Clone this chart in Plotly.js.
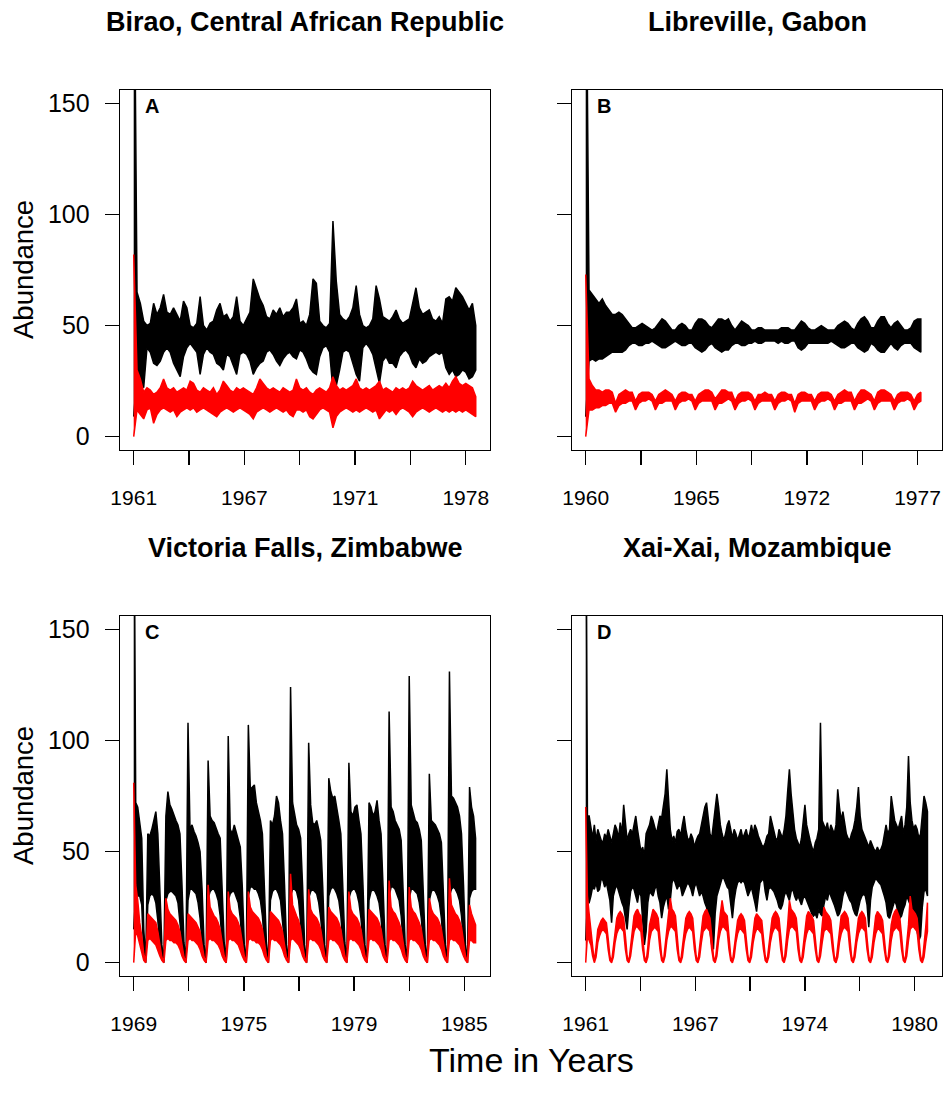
<!DOCTYPE html>
<html><head><meta charset="utf-8">
<script src="https://cdn.plot.ly/plotly-3.0.1.min.js"></script>
<style>html,body{margin:0;padding:0;background:#fff}#chart{width:944px;height:1105px}</style>
</head><body><div id="chart"></div>
<script>
// ---------- DATA ----------
const panelTitles = ['Birao, Central African Republic', 'Libreville, Gabon', 'Victoria Falls, Zimbabwe', 'Xai-Xai, Mozambique'];
const panelLetters = ['A', 'B', 'C', 'D'];
const tickDays = [0, 1000, 2000, 3000, 4000, 5000, 6000];
const yearLabelsA = ['1961', '', '1967', '', '1971', '', '1978'];
const yearLabelsB = ['1960', '', '1965', '', '1972', '', '1977'];
const yearLabelsC = ['1969', '', '1975', '', '1979', '', '1985'];
const yearLabelsD = ['1961', '', '1967', '', '1974', '', '1980'];
const yTicks = [0, 50, 100, 150];
const seriesLength = [6190, 6195, 6218, 6252];   // days of simulation per panel
const sampleStep = [60, 60, 36.5, 31.5];          // days between samples

// Panel A (Birao) envelope of the black (total) and red series
const blackHiA = [250,65,60,52,50,51,60,55,58,64, 56,55,58,55,52,61,58,50,49,51, 63,50,48,51,52,57,60,54,55,52,
 54,63,52,50,53,56,71,66,62,59, 54,53,57,55,58,54,56,56,58,62, 51,52,50,55,71,69,52,50,49,51,
 97,70,55,53,52,54,58,68,55,50, 49,50,53,68,62,54,53,52,54,57, 53,51,52,53,60,67,58,55,56,57,
 53,52,54,51,62,63,61,67,65,63, 60,57,60,50];
const blackLoA = [9,28,25,22,40,38,33,32,34,38, 40,38,33,30,27,36,40,42,40,38, 28,37,40,38,37,33,32,30,37,36,
 32,28,37,38,37,34,28,31,33,34, 38,39,37,34,32,35,37,38,36,35, 39,38,35,31,29,28,36,40,41,38,
 21,23,30,38,39,38,33,28,25,40, 42,40,37,30,24,34,36,33,33,31, 36,38,39,37,33,31,35,33,34,36,
 37,38,37,38,31,28,30,27,28,30, 29,26,27,30];
const redHiA = [82,30,26,20,22,21,19,20,22,26, 22,21,22,20,21,22,21,25,24,21, 20,22,21,20,22,19,21,25,23,21,
 20,22,21,22,21,20,19,22,26,24, 22,21,22,21,20,22,21,20,21,26, 22,21,22,20,19,21,22,21,20,22,
 27,23,21,22,21,22,23,26,22,21, 22,21,22,23,25,21,22,21,20,22, 21,22,21,22,25,23,22,21,22,23,
 21,22,23,22,24,22,25,27,24,23, 24,23,22,18];
const redLoA = [0,12,10,8,12,13,6,10,12,13, 12,11,12,9,11,12,13,12,13,11, 12,13,12,11,10,9,11,12,13,12,
 11,12,13,12,11,10,8,11,12,13, 12,11,12,13,12,11,12,10,9,12, 12,11,12,9,8,10,12,13,12,11,
 4,9,11,12,13,12,11,12,11,12, 13,12,11,12,8,10,12,11,12,10, 12,13,12,11,9,11,12,13,12,11,
 12,13,12,11,12,11,12,11,12,11, 12,11,10,9];

// Panel B (Libreville)
const blackHiB = [250,66,64,62,60,62,59,57,55,55, 56,55,53,51,49,49,50,51,50,49, 48,49,51,53,52,50,48,48,50,51,
 50,48,48,51,53,53,52,50,49,51, 53,53,52,53,50,48,50,52,51,50, 48,48,49,49,48,48,48,48,48,49,
 49,49,48,48,50,52,51,49,48,48, 49,50,49,48,48,48,50,51,52,51, 49,48,51,53,54,52,49,49,52,54,
 54,51,49,51,52,50,48,48,49,52, 53,53];
const blackLoB = [9,34,35,34,35,35,36,37,38,38, 38,38,39,41,42,42,41,41,42,42, 43,42,41,40,40,41,42,43,42,41,
 41,42,42,40,39,38,39,41,42,40, 39,38,39,39,41,42,42,41,41,42, 42,43,42,42,43,43,43,43,42,43,
 42,42,43,43,40,39,40,42,42,42, 42,42,42,42,43,42,41,40,40,41, 42,42,40,39,38,39,42,41,39,38,
 38,40,42,40,39,41,42,42,42,40, 39,38];
const redHiB = [73,26,23,21,21,20,21,21,20,15, 19,20,21,20,20,16,19,20,20,20, 19,16,19,20,21,20,19,16,19,20,
 20,19,19,16,19,20,21,21,20,17, 19,21,21,20,20,16,19,20,20,20, 19,16,19,19,20,19,19,16,19,20,
 20,19,19,15,19,20,20,19,19,16, 19,20,20,20,19,16,19,20,21,20, 20,16,19,21,21,20,19,16,20,21,
 21,20,19,16,19,20,20,20,19,16, 19,20];
const redLoB = [0,12,12,13,13,14,14,15,15,11, 14,15,15,16,16,12,15,16,16,17, 16,12,15,15,16,16,16,12,15,16,
 16,17,16,12,15,16,16,16,16,12, 15,15,16,17,16,12,15,16,16,17, 16,12,15,16,16,16,16,12,15,16,
 16,17,16,11,15,16,16,16,16,12, 15,16,16,17,16,12,15,15,16,16, 16,12,15,15,16,17,16,12,15,16,
 16,16,16,12,15,16,16,17,16,12, 15,16];

// Panel C (Victoria Falls): strongly seasonal, one row per wet season
const blackHiC = [250,72,70,62,56,15,0.5,
 58,57,60,64,68,58,32,8,0.5,
 66,77,71,69,66,64,62,58,35,9,0.5,
 108,60,62,59,57,54,50,33,8,0.5,
 91,66,64,63,60,58,56,36,9,0.5,
 102,60,58,62,59,56,52,34,8,0.5,
 107,78,79,80,72,68,64,58,34,9,0.5,
 64,62,66,75,72,64,58,35,8,0.5,
 124,72,66,62,60,56,34,8,0.5,
 99,71,63,62,64,60,55,34,8,0.5,
 83,77,74,75,70,64,58,36,9,0.5,
 90,68,66,70,71,64,58,35,8,0.5,
 72,70,66,68,73,64,58,34,8,0.5,
 113,70,68,64,62,60,55,34,8,0.5,
 129,71,68,64,63,60,55,34,8,0.5,
 85,64,63,62,60,58,54,33,8,0.5,
 131,75,74,72,70,66,58,35,8,0.5,
 79,70,66,56];
const blackLoC = [15,30,30,30,26,3,0,
 26,30,31,30,27,19,8,2,0,
 28,31,32,32,31,30,27,20,9,2,0,
 28,33,33,32,31,27,20,9,2,0,
 29,32,33,33,31,28,21,9,2,0,
 28,31,32,32,30,27,20,8,2,0,
 30,34,34,33,33,31,28,21,9,2,0,
 28,32,33,33,31,28,20,9,2,0,
 30,33,33,32,28,20,8,2,0,
 29,32,33,32,31,27,20,9,2,0,
 30,33,34,33,31,28,21,9,2,0,
 29,32,33,33,31,27,20,9,2,0,
 28,32,33,32,30,27,20,8,2,0,
 30,34,34,33,31,28,21,9,2,0,
 29,33,33,32,31,27,20,9,2,0,
 28,32,33,32,30,27,20,8,2,0,
 30,33,34,33,31,28,21,9,2,0,
 29,32,33,33];
const redHiC = [81,35,28,18,12,4,0.3,
 22,21,20,19,18,14,8,2.5,0.2,
 29,24,22,21,20,19,17,14,8,2.5,0.2,
 22,21,20,19,18,16,14,8,2.5,0.2,
 35,25,23,21,20,18,15,9,3,0.2,
 32,24,22,21,20,18,15,9,3,0.2,
 32,25,23,22,21,20,18,15,9,3,0.2,
 23,22,21,20,19,17,14,8,2.5,0.2,
 40,26,23,21,19,15,8,2.5,0.2,
 33,24,22,21,20,18,15,9,3,0.2,
 25,23,22,21,20,18,15,9,3,0.2,
 32,24,22,21,20,18,15,9,3,0.2,
 24,23,22,21,20,18,15,9,3,0.2,
 37,25,23,22,20,18,15,9,3,0.2,
 34,25,23,22,20,18,15,9,3,0.2,
 29,24,22,21,20,18,15,9,3,0.2,
 38,26,24,22,21,19,16,9,3,0.2,
 26,22,19,17];
const redLoC = [0,14,12,8,5,1,0,
 10,11,10,9,8,6,3,1,0,
 10,11,10,10,9,9,8,6,3,1,0,
 10,11,10,10,9,8,6,3,1,0,
 10,11,10,10,9,8,6,3,1,0,
 10,11,10,10,9,8,6,3,1,0,
 10,11,10,10,9,9,8,6,3,1,0,
 10,11,10,10,9,8,6,3,1,0,
 10,11,10,9,8,6,3,1,0,
 10,11,10,10,9,8,6,3,1,0,
 10,11,10,10,9,8,6,3,1,0,
 10,11,10,10,9,8,6,3,1,0,
 10,11,10,10,9,8,6,3,1,0,
 10,11,10,10,9,8,6,3,1,0,
 10,11,10,10,9,8,6,3,1,0,
 10,11,10,10,9,8,6,3,1,0,
 10,11,10,10,9,8,6,3,1,0,
 10,10,9,9];

// Panel D (Xai-Xai)
const blackHiD = [250,66,66,60,56,62,55,60,57,55, 54,58,56,60,57,54,58,62,60,56, 63,58,71,62,55,58,60,58,63,66,
 60,55,50,52,48,58,60,62,66,64, 61,58,62,66,65,72,76,87,70,60, 55,57,54,59,60,57,62,66,60,56,
 55,58,56,52,55,57,58,62,66,70, 72,65,58,56,62,70,76,70,62,58, 55,58,62,64,60,56,60,58,55,58,
 60,56,58,60,56,58,62,58,62,60, 57,55,53,52,54,57,58,66,63,60, 56,55,60,58,56,60,66,77,87,76,
 68,60,56,54,52,56,64,71,62,58, 55,52,50,54,56,60,108,64,62,60, 63,58,62,60,58,62,78,70,64,68,
 62,58,56,55,58,60,64,70,79,66, 60,58,56,54,52,55,53,51,50,52, 50,51,53,58,62,58,60,75,70,64,
 62,60,63,66,58,62,70,93,72,64, 60,62,60,56,58,65,75,72,68];
const blackLoD = [10,27,27,30,34,33,36,32,33,38, 37,34,36,32,28,18,30,33,35,33, 30,27,25,20,15,25,32,34,33,30,
 27,32,30,20,8,14,27,32,31,30, 33,35,30,27,20,25,28,30,24,28, 36,38,36,33,35,34,30,32,34,36,
 35,33,30,34,36,33,30,32,30,27, 25,20,15,8,6,22,30,33,35,38, 38,36,34,33,28,20,28,33,36,37,
 36,37,36,33,30,32,34,30,27,23, 30,36,37,38,32,28,33,34,33,32, 30,28,25,24,26,30,32,30,28,32,
 33,30,28,30,28,26,29,30,28,26, 24,22,21,22,20,24,22,21,26,30, 28,32,30,28,26,24,21,22,25,30,
 33,32,30,28,27,24,22,21,24,28, 30,31,30,26,16,28,34,36,38,37, 36,35,33,30,27,21,20,22,25,28,
 26,22,20,21,24,26,30,28,26,25, 22,20,14,10,12,25,32,33,30];
const redHiD = [70,30,22,15,7,
 0.3,7,15,17,19,20,19,18,11,3,
 0.3,7,16,20,22,23,22,20,12,3,
 0.3,8,16,21,23,24,22,21,12,3,
 0.3,7,17,21,24,23,22,20,12,3,
 0.3,8,17,22,29,24,23,21,12,3,
 0.3,7,16,20,22,23,22,20,11,3,
 0.3,7,16,21,23,24,22,20,12,3,
 0.3,8,17,22,28,23,22,21,12,3,
 0.3,7,15,19,21,22,21,19,11,3,
 0.3,7,16,20,22,21,20,19,11,3,
 0.3,7,16,20,22,23,22,20,12,3,
 0.3,8,17,28,24,23,22,20,12,3,
 0.3,7,16,21,23,22,21,19,11,3,
 0.3,8,16,25,23,22,21,19,11,3,
 0.3,7,16,21,22,23,22,20,12,3,
 0.3,7,16,20,22,23,22,20,11,3,
 0.3,7,16,21,23,22,21,19,11,3,
 0.3,8,17,21,23,24,22,20,12,3,
 0.3,8,17,30,24,23,22,20,12,3,
 0.3,7,16,27];
const redLoD = [0,12,10,8,3,
 0,2.5,9,12,14,15,14,13,6,1,
 0,2.5,9,13,15,16,15,14,6,1,
 0,3,9,14,16,16,15,14,6,1,
 0,2.5,10,14,15,16,15,14,6,1,
 0,3,10,14,16,16,15,14,6,1,
 0,2.5,9,13,15,16,15,14,6,1,
 0,2.5,9,14,15,16,15,14,6,1,
 0,3,10,14,16,16,15,14,6,1,
 0,2.5,9,13,15,15,14,13,6,1,
 0,2.5,9,13,15,15,14,13,6,1,
 0,2.5,9,13,15,16,15,14,6,1,
 0,3,10,15,16,16,15,14,6,1,
 0,2.5,9,13,15,15,14,13,6,1,
 0,3,9,14,15,15,14,13,6,1,
 0,2.5,9,13,15,16,15,14,6,1,
 0,2.5,9,13,15,16,15,14,6,1,
 0,2.5,9,13,15,15,14,13,6,1,
 0,3,10,14,15,16,15,14,6,1,
 0,3,10,15,16,16,15,14,6,1,
 0,2.5,9,14];

// ---------- DRAWING ----------
const FONT = '"Liberation Sans", Arial, Helvetica, sans-serif';
const BLACK = '#000000', RED = '#ff0000';

function band(step, hi, lo, color, xa, ya) {
  const xs = [], ys = [];
  for (let i = 0; i < hi.length; i++) { xs.push(i * step); ys.push(hi[i]); }
  for (let i = lo.length - 1; i >= 0; i--) { xs.push(i * step); ys.push(lo[i]); }
  return { type: 'scatter', mode: 'lines', x: xs, y: ys, fill: 'toself', fillcolor: color,
    line: { color: color, width: 1.5 }, xaxis: xa, yaxis: ya, hoverinfo: 'skip', showlegend: false };
}

const panels = [
  { xa: 'x',  ya: 'y',  bh: blackHiA, bl: blackLoA, rh: redHiA, rl: redLoA },
  { xa: 'x2', ya: 'y2', bh: blackHiB, bl: blackLoB, rh: redHiB, rl: redLoB },
  { xa: 'x3', ya: 'y3', bh: blackHiC, bl: blackLoC, rh: redHiC, rl: redLoC },
  { xa: 'x4', ya: 'y4', bh: blackHiD, bl: blackLoD, rh: redHiD, rl: redLoD }
];
const traces = [];
panels.forEach((p, k) => {
  traces.push(band(sampleStep[k], p.bh, p.bl, BLACK, p.xa, p.ya));
  traces.push(band(sampleStep[k], p.rh, p.rl, RED, p.xa, p.ya));
});

const W = 944, H = 1105;
const colPx = [[120, 490], [572, 942]];
const rowPx = [[90, 450], [616, 976]];
const dx = (a) => [a[0] / W, a[1] / W];
const dy = (a) => [1 - a[1] / H, 1 - a[0] / H];

function xAx(domain, N, labels, anchor) {
  return { domain: domain, anchor: anchor, range: [-0.04 * N, 1.04 * N],
    tickmode: 'array', tickvals: tickDays, ticktext: labels,
    ticks: 'outside', ticklen: 14, tickwidth: 1.3, tickcolor: BLACK,
    showline: true, mirror: true, linecolor: BLACK, linewidth: 1.3,
    showgrid: false, zeroline: false, ticklabelstandoff: 14,
    tickfont: { family: FONT, size: 21, color: BLACK }, fixedrange: true };
}
function yAx(domain, labels, anchor) {
  return { domain: domain, anchor: anchor, range: [-6, 156],
    tickmode: 'array', tickvals: yTicks, ticktext: yTicks.map(String), showticklabels: labels,
    ticks: 'outside', ticklen: 14, tickwidth: 1.3, tickcolor: BLACK,
    showline: true, mirror: true, linecolor: BLACK, linewidth: 1.3,
    showgrid: false, zeroline: false, ticklabelstandoff: 10,
    tickfont: { family: FONT, size: 25, color: BLACK }, fixedrange: true };
}

const annotations = [];
const titleY = [22, 548];
const letterY = [106, 632];
panelTitles.forEach((t, k) => {
  const c = k % 2, r = Math.floor(k / 2);
  annotations.push({ xref: 'paper', yref: 'paper', x: (colPx[c][0] + colPx[c][1]) / 2 / W, y: 1 - titleY[r] / H,
    xanchor: 'center', yanchor: 'middle', showarrow: false, text: '<b>' + t + '</b>',
    font: { family: FONT, size: 27, color: BLACK } });
  annotations.push({ xref: 'paper', yref: 'paper', x: (colPx[c][0] + 22.5) / W, y: 1 - letterY[r] / H,
    xanchor: 'left', yanchor: 'middle', showarrow: false, text: '<b>' + panelLetters[k] + '</b>',
    font: { family: FONT, size: 20, color: BLACK } });
});
[0, 1].forEach(r => {
  annotations.push({ xref: 'paper', yref: 'paper', x: 23 / W, y: 1 - (rowPx[r][0] + rowPx[r][1]) / 2 / H,
    xanchor: 'center', yanchor: 'middle', showarrow: false, textangle: -90, text: 'Abundance',
    font: { family: FONT, size: 27.5, color: BLACK } });
});
annotations.push({ xref: 'paper', yref: 'paper', x: 531 / W, y: 1 - 1060 / H, xanchor: 'center', yanchor: 'middle',
  showarrow: false, text: 'Time in Years', font: { family: FONT, size: 34, color: BLACK } });

const layout = {
  width: W, height: H, margin: { l: 0, r: 0, t: 0, b: 0 },
  paper_bgcolor: '#ffffff', plot_bgcolor: '#ffffff', showlegend: false,
  font: { family: FONT, color: BLACK },
  xaxis:  xAx(dx(colPx[0]), seriesLength[0], yearLabelsA, 'y'),
  yaxis:  yAx(dy(rowPx[0]), true, 'x'),
  xaxis2: xAx(dx(colPx[1]), seriesLength[1], yearLabelsB, 'y2'),
  yaxis2: yAx(dy(rowPx[0]), false, 'x2'),
  xaxis3: xAx(dx(colPx[0]), seriesLength[2], yearLabelsC, 'y3'),
  yaxis3: yAx(dy(rowPx[1]), true, 'x3'),
  xaxis4: xAx(dx(colPx[1]), seriesLength[3], yearLabelsD, 'y4'),
  yaxis4: yAx(dy(rowPx[1]), false, 'x4'),
  annotations: annotations
};

Plotly.newPlot('chart', traces, layout, { staticPlot: true, displayModeBar: false });
</script>
</body></html>
